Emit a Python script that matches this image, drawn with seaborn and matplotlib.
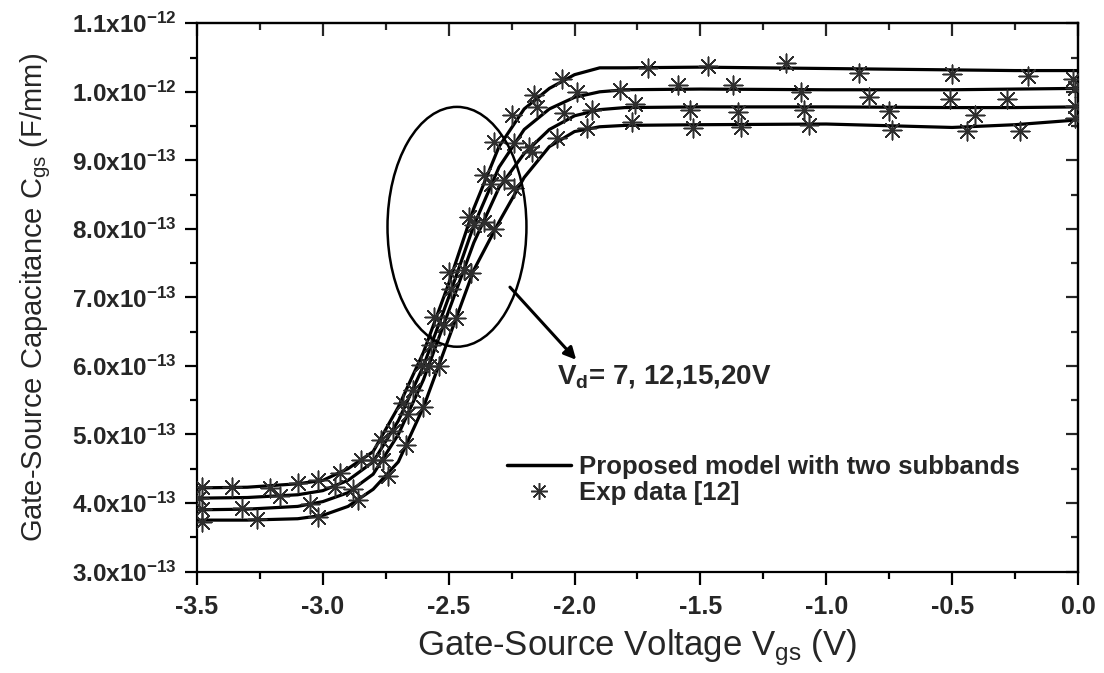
import numpy as np
import pandas as pd
import matplotlib
matplotlib.use("Agg")
import matplotlib.pyplot as plt
from matplotlib.patches import Ellipse
from matplotlib.lines import Line2D
from matplotlib.ticker import MultipleLocator, FixedLocator, FuncFormatter
import seaborn as sns

# ---------------- data (capacitance in units of 1e-13 F/mm) ----------------
model_vgs = [-3.5, -3.3, -3.1, -3.0, -2.9, -2.8, -2.7, -2.6, -2.5, -2.4,
             -2.3, -2.2, -2.1, -2.0, -1.9, -1.8, -1.5, -1.0, -0.5, -0.25, 0.0]
model_c1 = [4.22, 4.23, 4.28, 4.33, 4.50, 4.75, 5.40, 6.20, 7.20, 8.30,
            9.20, 9.75, 10.05, 10.25, 10.35, 10.35, 10.36, 10.34, 10.32, 10.31, 10.31]
model_c2 = [4.07, 4.08, 4.12, 4.18, 4.33, 4.60, 5.20, 6.00, 7.00, 8.05,
            8.90, 9.45, 9.75, 9.92, 10.00, 10.03, 10.04, 10.03, 10.03, 10.04, 10.05]
model_c3 = [3.90, 3.91, 3.95, 4.02, 4.15, 4.42, 5.00, 5.80, 6.80, 7.80,
            8.60, 9.10, 9.45, 9.65, 9.74, 9.77, 9.78, 9.78, 9.77, 9.77, 9.78]
model_c4 = [3.75, 3.75, 3.77, 3.82, 3.95, 4.20, 4.60, 5.40, 6.40, 7.40,
            8.10, 8.75, 9.20, 9.42, 9.49, 9.51, 9.52, 9.53, 9.48, 9.52, 9.59]

exp1_vgs = [-3.48, -3.36, -3.21, -3.10, -3.02, -2.93, -2.85, -2.77, -2.68, -2.61,
            -2.56, -2.50, -2.42, -2.36, -2.32, -2.25, -2.16, -2.05, -1.71, -1.47,
            -1.16, -0.87, -0.50, -0.20, -0.02]
exp1_c = [4.23, 4.23, 4.22, 4.29, 4.34, 4.44, 4.63, 4.92, 5.46, 6.01,
          6.72, 7.37, 8.18, 8.79, 9.27, 9.66, 9.96, 10.18, 10.35, 10.37,
          10.42, 10.28, 10.26, 10.23, 10.19]
exp2_vgs = [-3.49, -3.17, -2.95, -2.80, -2.72, -2.64, -2.57, -2.49, -2.40, -2.33,
            -2.24, -2.15, -1.99, -1.82, -1.59, -1.37, -1.10, -0.83, -0.51, -0.28, -0.01]
exp2_c = [4.07, 4.10, 4.24, 4.62, 5.05, 5.65, 6.30, 7.12, 8.05, 8.65,
          9.25, 9.78, 9.99, 10.03, 10.10, 10.10, 10.00, 9.93, 9.90, 9.90, 10.05]
exp3_vgs = [-3.48, -3.32, -3.05, -2.88, -2.76, -2.66, -2.58, -2.52, -2.44, -2.36,
            -2.28, -2.18, -2.04, -1.93, -1.76, -1.54, -1.35, -1.09, -0.75, -0.41, -0.01]
exp3_c = [3.91, 3.92, 3.99, 4.20, 4.62, 5.30, 6.00, 6.60, 7.40, 8.10,
          8.72, 9.20, 9.69, 9.74, 9.82, 9.74, 9.71, 9.74, 9.72, 9.66, 9.80]
exp4_vgs = [-3.48, -3.26, -3.02, -2.86, -2.74, -2.67, -2.60, -2.54, -2.47, -2.41,
            -2.32, -2.24, -2.17, -2.07, -1.95, -1.77, -1.53, -1.34, -1.07, -0.74,
            -0.44, -0.23, -0.01]
exp4_c = [3.72, 3.76, 3.80, 4.05, 4.40, 4.85, 5.40, 6.00, 6.70, 7.35,
          8.00, 8.60, 9.12, 9.33, 9.47, 9.56, 9.47, 9.49, 9.52, 9.45,
          9.43, 9.43, 9.62]

vd_labels = ["7V", "12V", "15V", "20V"]
y_ticks = [3, 4, 5, 6, 7, 8, 9, 10, 11]
x_ticks = [-3.5, -3.0, -2.5, -2.0, -1.5, -1.0, -0.5, 0.0]
legend_labels = ["Proposed model with two subbands", "Exp data [12]"]
annotation = r"V$_{\mathbf{d}}$= 7, 12,15,20V"
xlabel = r"Gate-Source Voltage V$_{\rm gs}$ (V)"
ylabel = r"Gate-Source Capacitance C$_{\rm gs}$ (F/mm)"

SCALE = 1e-13

model_df = pd.concat([
    pd.DataFrame({"vgs": model_vgs, "cgs": np.array(c) * SCALE, "vd": lab})
    for c, lab in zip([model_c1, model_c2, model_c3, model_c4], vd_labels)
], ignore_index=True)
exp_df = pd.concat([
    pd.DataFrame({"vgs": v, "cgs": np.array(c) * SCALE, "vd": lab})
    for v, c, lab in zip([exp1_vgs, exp2_vgs, exp3_vgs, exp4_vgs],
                         [exp1_c, exp2_c, exp3_c, exp4_c], vd_labels)
], ignore_index=True)

# ---------------- style ----------------
sns.set_theme(style="ticks")
plt.rcParams["font.family"] = ["Liberation Sans", "DejaVu Sans"]
plt.rcParams["mathtext.fontset"] = "custom"
plt.rcParams["mathtext.rm"] = "Liberation Sans"
plt.rcParams["mathtext.bf"] = "Liberation Sans:bold"
plt.rcParams["mathtext.default"] = "rm"

fig = plt.figure(figsize=(11.04, 6.73), dpi=100)
ax = fig.add_axes([0.1784, 0.1508, 0.7980, 0.8146])

star = (8, 2, 0)
sns.lineplot(data=model_df, x="vgs", y="cgs", units="vd", estimator=None,
             sort=False, color="black", linewidth=2.3, ax=ax, legend=False)
sns.scatterplot(data=exp_df, x="vgs", y="cgs", marker=star, s=180,
                color="#2e2e2e", edgecolor="#2e2e2e", linewidth=1.1,
                ax=ax, legend=False, zorder=3)

ax.set_xlim(-3.5, 0.0)
ax.set_ylim(3 * SCALE, 11 * SCALE)

ax.xaxis.set_major_locator(FixedLocator(x_ticks))
ax.xaxis.set_minor_locator(MultipleLocator(0.25))
ax.yaxis.set_major_locator(FixedLocator([t * SCALE for t in y_ticks]))
ax.yaxis.set_minor_locator(MultipleLocator(0.5 * SCALE))


def yfmt(v, pos):
    m = v / SCALE
    if m >= 9.999:
        return f"{m/10:.1f}x10" + r"$^{\mathbf{-12}}$"
    return f"{m:.1f}x10" + r"$^{\mathbf{-13}}$"


ax.yaxis.set_major_formatter(FuncFormatter(yfmt))
ax.xaxis.set_major_formatter(FuncFormatter(lambda v, p: f"{v:.1f}"))

for s in ax.spines.values():
    s.set_linewidth(1.6)
    s.set_color("black")
    s.set_visible(True)

ax.tick_params(which="major", length=9, width=1.6, color="black", pad=6)
ax.tick_params(axis="y", which="major", labelsize=17.5)
ax.tick_params(axis="x", which="major", labelsize=18, pad=8)
ax.tick_params(which="minor", length=5, width=1.6, color="black")
ax.tick_params(axis="both", which="both", direction="out", top=False, right=False)
# mirrored ticks inside on top/right
ax2 = ax.secondary_xaxis("top")
ax2.xaxis.set_major_locator(FixedLocator(x_ticks))
ax2.xaxis.set_minor_locator(MultipleLocator(0.25))
ax2.tick_params(which="major", direction="in", length=9, width=1.6, labeltop=False)
ax2.tick_params(which="minor", direction="in", length=5, width=1.6)
ax2.spines["top"].set_linewidth(1.6)
ay2 = ax.secondary_yaxis("right")
ay2.yaxis.set_major_locator(FixedLocator([t * SCALE for t in y_ticks]))
ay2.yaxis.set_minor_locator(MultipleLocator(0.5 * SCALE))
ay2.tick_params(which="major", direction="in", length=9, width=1.6, labelright=False)
ay2.tick_params(which="minor", direction="in", length=5, width=1.6)
ay2.spines["right"].set_linewidth(1.6)

for lab in ax.get_xticklabels() + ax.get_yticklabels():
    lab.set_fontweight("bold")

ax.set_xlabel(xlabel, fontsize=25, labelpad=6)
ax.set_ylabel(ylabel, fontsize=21, labelpad=13)

# ellipse highlighting the transition region
ell = Ellipse((-2.467, 8.03 * SCALE), width=0.552, height=3.5 * SCALE,
              fill=False, edgecolor="black", linewidth=1.8, zorder=4)
ax.add_patch(ell)
ax.annotate("", xy=(-1.986, 6.06 * SCALE), xytext=(-2.264, 7.18 * SCALE),
            arrowprops=dict(arrowstyle="-|>", color="black", lw=2.2,
                            mutation_scale=18))
ax.text(-2.07, 5.85 * SCALE, annotation, fontsize=20, fontweight="bold",
        ha="left", va="center")

handles = [Line2D([], [], color="black", linewidth=2.5),
           Line2D([], [], color="#2e2e2e", marker=star, markersize=12,
                  markeredgewidth=1.1, linestyle="none")]
leg = ax.legend(handles, legend_labels, loc="upper left",
                bbox_to_anchor=(0.352, 0.212), frameon=False,
                prop={"size": 18.5, "weight": "bold"}, handlelength=2.5,
                handletextpad=0.3, labelspacing=0.05, borderaxespad=0,
                borderpad=0)

fig.savefig("out.png", dpi=100)
